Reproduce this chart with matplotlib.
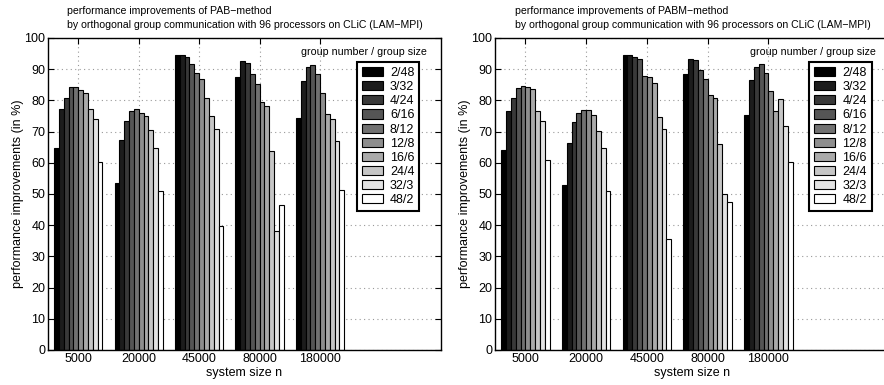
import numpy as np
import matplotlib
matplotlib.use("Agg")
import matplotlib.pyplot as plt

plt.rcParams['font.family'] = ['Liberation Sans', 'DejaVu Sans']

# Data
sizes = ["5000", "20000", "45000", "80000", "180000"]
groups = ["2/48", "3/32", "4/24", "6/16", "8/12", "12/8", "16/6", "24/4", "32/3", "48/2"]

# rows: system size, columns: group number / group size
pab = [
    [64.9, 77.2, 80.9, 84.2, 84.2, 83.4, 82.5, 77.1, 73.9, 60.3],
    [53.4, 67.2, 73.3, 76.6, 77.1, 76.1, 75.1, 70.6, 64.6, 50.9],
    [94.4, 94.6, 93.8, 91.7, 88.8, 86.8, 80.7, 75.1, 70.9, 39.6],
    [87.4, 92.5, 92.0, 88.4, 85.3, 79.6, 78.2, 63.9, 38.1, 46.4],
    [74.5, 86.1, 90.7, 91.3, 88.4, 82.4, 75.6, 74.0, 66.9, 51.3],
]
pabm = [
    [64.2, 76.5, 80.7, 84.0, 84.5, 84.3, 83.5, 76.5, 73.4, 60.8],
    [52.9, 66.2, 73.2, 75.9, 76.8, 76.8, 75.2, 70.3, 64.6, 50.9],
    [94.4, 94.5, 93.8, 93.2, 87.8, 87.4, 85.7, 74.6, 70.8, 35.5],
    [88.6, 93.4, 92.9, 89.9, 86.8, 81.6, 80.7, 65.9, 49.9, 47.3],
    [75.3, 86.5, 90.7, 91.7, 88.9, 83.1, 76.6, 80.3, 71.9, 60.2],
]
titles = [
    "performance improvements of PAB\u2212method\n"
    "by orthogonal group communication with 96 processors on CLiC (LAM\u2212MPI)",
    "performance improvements of PABM\u2212method\n"
    "by orthogonal group communication with 96 processors on CLiC (LAM\u2212MPI)",
]

fig = plt.figure(figsize=(8.84, 3.85), dpi=100)
ax_l = fig.add_axes([48 / 884, 35 / 385, 393 / 884, 312 / 385])
ax_r = fig.add_axes([495 / 884, 35 / 385, 395 / 884, 312 / 385])

n = len(groups)
width = 0.08
grays = np.linspace(0.0, 1.0, n)
xpos = np.arange(1, len(sizes) + 1)

for ax, data, title, lx in [(ax_l, pab, titles[0], 0.945), (ax_r, pabm, titles[1], 0.954)]:
    vals = np.array(data)
    for i in range(n):
        offs = -0.4 + width / 2 + width * i
        ax.bar(xpos + offs, vals[:, i], width=width, color=str(grays[i]),
               edgecolor='black', linewidth=0.8, label=groups[i], zorder=2)
    ax.set_xlim(0.5, 7.0)
    ax.set_ylim(0, 100)
    ax.set_xticks(xpos)
    ax.set_xticklabels(sizes)
    ax.set_yticks(np.arange(0, 101, 10))
    ax.grid(True, linestyle=(0, (1, 3)), color='#999999', linewidth=0.8)
    ax.set_axisbelow(True)
    ax.tick_params(direction='in', top=True, right=True, labelsize=9, length=4, pad=2)
    for sp in ax.spines.values():
        sp.set_linewidth(1.0)
    ax.set_xlabel("system size n", fontsize=9, labelpad=1.5)
    ax.set_ylabel("performance improvements (in %)", fontsize=9, labelpad=0)
    ax.text(0.5, 1.025, title, transform=ax.transAxes, ha='center', va='bottom',
            multialignment='left', fontsize=7.6, linespacing=1.55)
    ax.text(0.965, 0.955, "group number / group size", transform=ax.transAxes,
            ha='right', va='center', fontsize=7.7)
    leg = ax.legend(loc='upper right', bbox_to_anchor=(lx, 0.923), fontsize=9,
                    fancybox=False, framealpha=1, edgecolor='black',
                    handlelength=1.7, handleheight=0.75, handletextpad=0.55,
                    labelspacing=0.17, borderpad=0.4, borderaxespad=0)
    leg.get_frame().set_linewidth(1.5)
    for h in leg.legend_handles:
        h.set_edgecolor('black')
        h.set_linewidth(0.8)

fig.savefig("out.png", dpi=100)
